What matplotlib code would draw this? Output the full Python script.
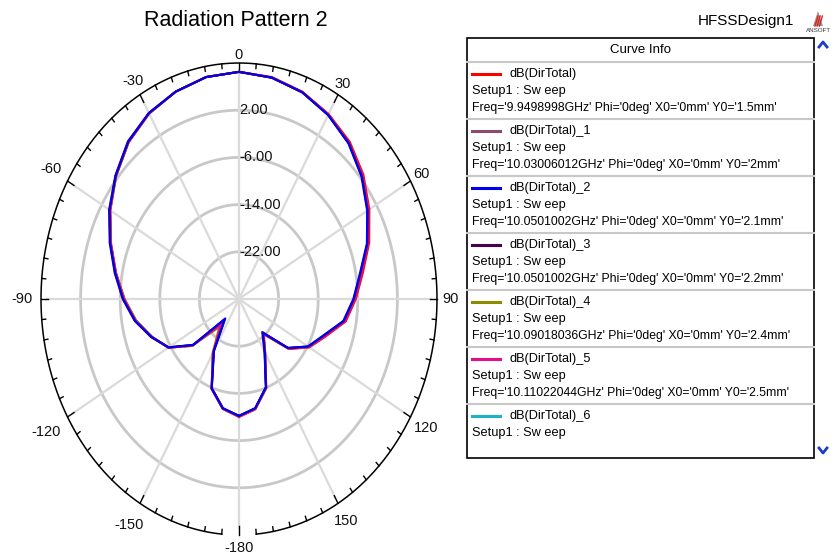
import numpy as np
import matplotlib
matplotlib.use("Agg")
import matplotlib.pyplot as plt
from matplotlib.lines import Line2D
from matplotlib.patches import Rectangle, Polygon

plt.rcParams['font.family'] = ['Liberation Sans', 'DejaVu Sans']

# ---------------- data ----------------
theta_deg = [-180, -170, -160, -150, -140, -130, -120, -110, -100, -90, -80, -70,
             -60, -50, -40, -30, -20, -10, 0, 10, 20, 30, 40, 50, 60, 70, 80, 90,
             100, 110, 120, 130, 140, 150, 160, 170, 180]

dir_0 = [-10.0, -11.1, -13.8, -19.6, -24.8, -17.7, -13.5, -11.3, -8.9, -6.9, -4.8, -2.5,
         0.0, 2.4, 4.7, 6.3, 7.4, 8.2, 8.5, 8.2, 7.4, 6.2, 4.8, 2.8, 0.4, -2.0, -4.6, -6.4,
         -8.1, -11.4, -13.6, -16.8, -22.2, -19.4, -13.9, -11.0, -10.0]
dir_1 = [-10.1, -11.2, -13.9, -19.8, -25.2, -17.8, -13.6, -11.2, -8.8, -6.8, -4.7, -2.4,
         0.1, 2.5, 4.8, 6.4, 7.4, 8.2, 8.5, 8.1, 7.3, 6.1, 4.6, 2.6, 0.2, -2.3, -4.9, -6.7,
         -8.4, -11.7, -13.8, -17.0, -22.4, -19.5, -14.0, -11.1, -10.1]
dir_2 = [-10.2, -11.2, -13.9, -19.9, -25.7, -17.9, -13.6, -11.2, -8.7, -6.6, -4.6, -2.3,
         0.2, 2.5, 4.8, 6.4, 7.4, 8.2, 8.5, 8.1, 7.3, 6.0, 4.4, 2.3, -0.1, -2.5, -5.2, -6.9,
         -8.6, -11.9, -13.9, -17.1, -22.5, -19.6, -14.1, -11.2, -10.2]
dir_3 = [-10.2, -11.2, -13.9, -19.8, -25.5, -17.9, -13.6, -11.1, -8.6, -6.5, -4.5, -2.2,
         0.3, 2.6, 4.9, 6.4, 7.4, 8.2, 8.5, 8.1, 7.3, 6.0, 4.5, 2.4, 0.0, -2.4, -5.1, -6.8,
         -8.5, -11.8, -13.9, -17.1, -22.7, -19.7, -14.1, -11.2, -10.2]
dir_4 = [-10.1, -11.2, -13.9, -19.3, -23.8, -17.6, -13.5, -11.3, -8.9, -6.8, -4.7, -2.4,
         0.1, 2.4, 4.7, 6.3, 7.4, 8.2, 8.5, 8.1, 7.3, 6.1, 4.5, 2.5, 0.1, -2.3, -4.9, -6.6,
         -8.3, -11.6, -13.7, -17.0, -22.3, -19.5, -14.0, -11.1, -10.1]
dir_5 = [-10.1, -11.1, -13.8, -19.5, -24.3, -17.7, -13.5, -11.2, -8.8, -6.7, -4.7, -2.4,
         0.1, 2.5, 4.7, 6.3, 7.4, 8.2, 8.5, 8.1, 7.3, 6.1, 4.6, 2.6, 0.2, -2.2, -4.8, -6.5,
         -8.2, -11.5, -13.7, -16.9, -22.3, -19.5, -14.0, -11.1, -10.1]
dir_6 = [-10.1, -11.1, -13.8, -19.6, -24.6, -17.7, -13.5, -11.2, -8.8, -6.7, -4.7, -2.4,
         0.1, 2.5, 4.7, 6.4, 7.4, 8.2, 8.5, 8.1, 7.3, 6.1, 4.5, 2.5, 0.1, -2.3, -4.9, -6.6,
         -8.3, -11.6, -13.8, -17.0, -22.4, -19.5, -14.0, -11.1, -10.1]

series = [dir_0, dir_1, dir_2, dir_3, dir_4, dir_5, dir_6]
names = ["dB(DirTotal)", "dB(DirTotal)_1", "dB(DirTotal)_2", "dB(DirTotal)_3",
         "dB(DirTotal)_4", "dB(DirTotal)_5", "dB(DirTotal)_6"]
colors = ["#ff0000", "#8c4a6e", "#0000ee", "#4a0050", "#8c8c00", "#e0108c", "#20b0c8"]
freq_lines = ["Freq='9.9498998GHz' Phi='0deg' X0='0mm' Y0='1.5mm'",
              "Freq='10.03006012GHz' Phi='0deg' X0='0mm' Y0='2mm'",
              "Freq='10.0501002GHz' Phi='0deg' X0='0mm' Y0='2.1mm'",
              "Freq='10.0501002GHz' Phi='0deg' X0='0mm' Y0='2.2mm'",
              "Freq='10.09018036GHz' Phi='0deg' X0='0mm' Y0='2.4mm'",
              "Freq='10.11022044GHz' Phi='0deg' X0='0mm' Y0='2.5mm'",
              ""]
ring_values = [-22, -14, -6, 2]
ring_labels = ["-22.00", "-14.00", "-6.00", "2.00"]
angle_ticks = [0, 30, 60, 90, 120, 150, 180, -150, -120, -90, -60, -30]
angle_labels = ["0", "30", "60", "90", "120", "150", "-180", "-150", "-120", "-90", "-60", "-30"]
r_min, r_max = -30, 10

# ---------------- figure ----------------
W, H = 834, 556
fig = plt.figure(figsize=(W / 100, H / 100), dpi=100)
fig.patch.set_facecolor("white")

def fx(x):
    return x / W

def fy(y):
    return 1 - y / H

cx, cy, ax_rx, ax_ry = 239, 299, 198, 236
ax = fig.add_axes([fx(cx - ax_rx), fy(cy + ax_ry), 2 * ax_rx / W, 2 * ax_ry / H],
                  projection="polar")
ax.set_theta_zero_location("N")
ax.set_theta_direction(-1)
ax.set_ylim(r_min, r_max)
ax.set_aspect("auto")
ax.grid(False)
ax.set_xticks([])
ax.set_yticks([])
ax.spines["polar"].set_visible(False)
ax.patch.set_visible(False)

full = np.linspace(0, 2 * np.pi, 721)
for rv in ring_values:
    ax.plot(full, np.full_like(full, rv), color="#c8c8c8", lw=2.0, zorder=1)
for a in range(0, 360, 30):
    t = np.deg2rad(a)
    ax.plot([t, t], [r_min, r_max - 1.2], color="#dadada", lw=1.6, zorder=1)
outer = np.deg2rad(np.linspace(-175, 175, 701))
ax.plot(outer, np.full_like(outer, r_max), color="black", lw=1.1, zorder=3, clip_on=False)
for a in range(-175, 181, 5):
    t = np.deg2rad(a)
    L = 1.5 if a % 30 == 0 else 0.8
    ax.plot([t, t], [r_max, r_max - L], color="black", lw=1.0, zorder=3, clip_on=False)

for rv, lab in zip(ring_values, ring_labels):
    ax.text(0, rv, lab, ha="left", va="center", fontsize=10.5, color="#111111", zorder=4)

label_rn = {0: 1.034, 30: 1.05, 60: 1.063, 90: 1.066, 120: 1.093, 150: 1.087,
            180: 1.055, -150: 1.108, -120: 1.128, -90: 1.096, -60: 1.098, -30: 1.067}
for a, lab in zip(angle_ticks, angle_labels):
    rn = label_rn[a]
    ax.text(np.deg2rad(a), r_min + rn * (r_max - r_min), lab, ha="center", va="center",
            fontsize=10.5, color="#111111", clip_on=False)

th = np.deg2rad(theta_deg)
order = [6, 0, 1, 4, 5, 3, 2]
for k, i in enumerate(order):
    ax.plot(th, series[i], color=colors[i], lw=1.5, zorder=5 + k)

fig.text(fx(236), fy(21), "Radiation Pattern 2", ha="center", va="center", fontsize=15.5)
fig.text(fx(746), fy(21), "HFSSDesign1", ha="center", va="center", fontsize=11)

# ANSOFT logo
fig.add_artist(Polygon([[fx(813), fy(26)], [fx(823), fy(26)], [fx(818), fy(11)]],
                       closed=True, facecolor="#9a9a9a", edgecolor="none"))
for k in range(3):
    x0 = 815 + 2.2 * k
    fig.add_artist(Line2D([fx(x0), fx(x0 + 3)], [fy(26), fy(16)], color="#e02020", lw=1.0))
fig.text(fx(819), fy(30), "ANSOFT", ha="center", va="center", fontsize=4.5, color="#333333")

blue = "#1a3cc8"
fig.add_artist(Line2D([fx(819), fx(823), fx(827)], [fy(47), fy(42), fy(47)], color=blue, lw=2.0))
fig.add_artist(Line2D([fx(819), fx(823), fx(827)], [fy(448), fy(453), fy(448)], color=blue, lw=2.0))

# legend box
bx0, bx1, by0, by1 = 467, 814, 38, 458
leg_fs = 8.8
fig.add_artist(Rectangle((fx(bx0), fy(by1)), (bx1 - bx0) / W, (by1 - by0) / H,
                         facecolor="white", edgecolor="black", lw=1.2))
fig.text(fx((bx0 + bx1) / 2), fy(50), "Curve Info", ha="center", va="center", fontsize=9.5)
fig.add_artist(Line2D([fx(bx0), fx(bx1)], [fy(62), fy(62)], color="#c8c8c8", lw=1.5))
entry_h = 57
for i, (nm, col, fq) in enumerate(zip(names, colors, freq_lines)):
    top = 62 + i * entry_h
    if i > 0:
        fig.add_artist(Line2D([fx(bx0), fx(bx1)], [fy(top), fy(top)], color="#c8c8c8", lw=1.5))
    fig.add_artist(Line2D([fx(472), fx(500)], [fy(top + 12), fy(top + 12)], color=col, lw=2.2))
    fig.text(fx(509), fy(top + 12), nm, ha="left", va="center", fontsize=9.2)
    fig.text(fx(472), fy(top + 29), "Setup1 : Sw eep", ha="left", va="center", fontsize=9.2)
    if fq:
        fig.text(fx(472), fy(top + 46), fq, ha="left", va="center", fontsize=leg_fs)

fig.savefig("out.png", dpi=100)
